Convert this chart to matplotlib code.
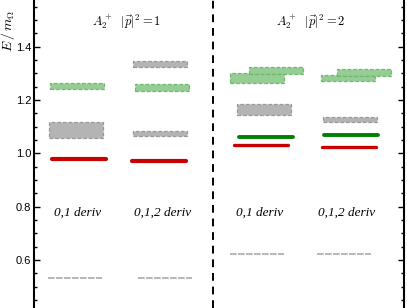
import matplotlib
matplotlib.use("Agg")
import matplotlib.pyplot as plt
from matplotlib.ticker import MultipleLocator

plt.rcParams['mathtext.fontset'] = 'cm'

# ---- data (energies E/m_Omega) ----
col_labels = ["0,1 deriv", "0,1,2 deriv", "0,1 deriv", "0,1,2 deriv"]
panel_titles = [r"$A_2^+\ \ |\vec{p}|^2=1$", r"$A_2^+\ \ |\vec{p}|^2=2$"]

red_E = [0.979, 0.972, 1.031, 1.025]
darkgreen_E = [1.062, 1.067]            # panel 2 columns
gray_line_E = [0.531, 0.531, 0.622, 0.622]

gray_band_col = [0, 1, 1, 2, 3]
gray_band_E = [1.087, 1.075, 1.336, 1.163, 1.127]
gray_band_hw = [0.031, 0.010, 0.011, 0.021, 0.011]

green_band_col = [0, 1, 2, 2, 3, 3]
green_band_E = [1.253, 1.248, 1.282, 1.311, 1.281, 1.303]
green_band_hw = [0.0125, 0.0125, 0.018, 0.012, 0.011, 0.0125]

# ---- layout (x in pixel-like units from left spine) ----
W = 54
red_x = [18.3, 98.3, 200, 287.7]
red_lw = [3.0, 3.0, 2.4, 2.4]
darkgreen_x = [205, 289.7]
gray_line_x = [14.3, 103.7, 196, 283]
gray_band_x = [15.3, 99.3, 99, 203, 288.7]
green_band_x = [16, 101, 196, 215, 286.7, 302.7]
label_x = [43.5, 129, 225.7, 313]
title_x = [92.7, 276.8]
divider_x = 179

fig = plt.figure(figsize=(4.07, 3.08), dpi=100)
ax = fig.add_axes([34/407, 0.0, 370/407, 1.0])
ax.set_xlim(0, 370)
ax.set_ylim(0.42, 1.575)

gray_fill = '#b4b4b4'
gray_edge = '#9a9a9a'
green_fill = '#8fcb8f'
green_edge = '#6db86d'

ax.bar(gray_band_x, [2*h for h in gray_band_hw], width=W,
       bottom=[e - h for e, h in zip(gray_band_E, gray_band_hw)], align='edge',
       color=gray_fill, edgecolor=gray_edge, linestyle=(0, (3, 1.5)), linewidth=0.9, zorder=2)
ax.bar(green_band_x, [2*h for h in green_band_hw], width=W,
       bottom=[e - h for e, h in zip(green_band_E, green_band_hw)], align='edge',
       color=green_fill, edgecolor=green_edge, linestyle=(0, (3, 1.5)), linewidth=0.9,
       alpha=0.95, zorder=2)

for x, e, lw in zip(red_x, red_E, red_lw):
    ax.plot([x, x + W], [e, e], color='#c80000', lw=lw, solid_capstyle='round', zorder=3)
for x, e in zip(darkgreen_x, darkgreen_E):
    ax.plot([x, x + W], [e, e], color='#008000', lw=2.8, solid_capstyle='round', zorder=3)
for x, e in zip(gray_line_x, gray_line_E):
    ax.plot([x, x + W], [e, e], color='#aaaaaa', lw=1.2, linestyle=(0, (4, 0.8)), zorder=3)

for x, t in zip(label_x, col_labels):
    ax.text(x, 0.779, t, ha='center', va='center', fontsize=9.5,
            family='Liberation Serif', style='italic')
for x, t in zip(title_x, panel_titles):
    ax.text(x, 1.492, t, ha='center', va='center', fontsize=9)

ax.axvline(divider_x, color='black', lw=1.4, linestyle=(0, (4, 3)))

for s in ['top', 'bottom']:
    ax.spines[s].set_visible(False)
for s in ['left', 'right']:
    ax.spines[s].set_linewidth(1.5)

ax.xaxis.set_visible(False)
ax.yaxis.set_major_locator(MultipleLocator(0.2))
ax.yaxis.set_minor_locator(MultipleLocator(0.05))
ax.tick_params(axis='y', which='both', direction='in', left=True, right=True,
               labelsize=8, pad=2, width=1)
ax.tick_params(axis='y', which='major', length=4.5)
ax.tick_params(axis='y', which='minor', length=2.5)
for lbl in ax.get_yticklabels():
    lbl.set_family('Liberation Sans')

ax.set_ylabel(r"$E\,/\,m_\Omega$", fontsize=10)
ax.yaxis.set_label_coords(-0.045, 0.90)

fig.savefig("out.png", dpi=100)
